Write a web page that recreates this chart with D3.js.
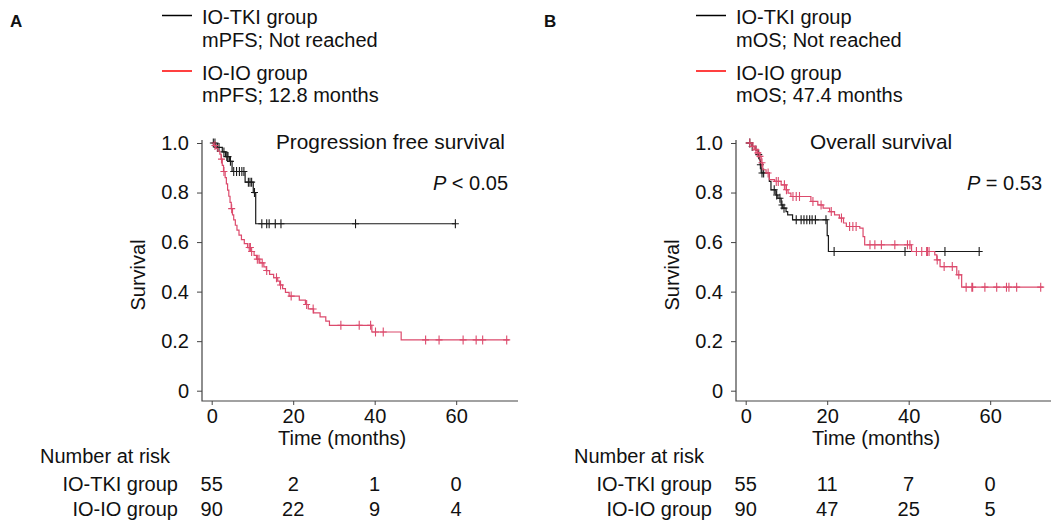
<!DOCTYPE html>
<html>
<head>
<meta charset="utf-8">
<script src="https://cdn.jsdelivr.net/npm/d3@7"></script>
<style>
  body { margin: 0; background: #fff; }
  text { font-family: "Liberation Sans", Arial, Helvetica, sans-serif; fill: #111; }
</style>
</head>
<body>
<svg width="1051" height="529"></svg>
<script>
// ---- data ----
var timeTicks = [0, 20, 40, 60],
    survTicks = [0, 0.2, 0.4, 0.6, 0.8, 1.0];

// A: progression free survival
var pfsTkiTime = [0, 1.0, 2.6, 3.4, 4.4, 5.0, 8.2, 10.2, 10.8],
    pfsTkiSurv = [1.0, 0.982, 0.964, 0.945, 0.926, 0.885, 0.842, 0.80, 0.674],
    pfsTkiEnd = 59.8,
    pfsTkiCens = [0.4, 0.8, 1.4, 1.8, 3.0, 3.7, 4.0, 4.6, 5.4, 6.1, 6.8, 7.4, 7.9, 9.0, 9.4, 9.8, 10.5, 12.3, 13.5, 14.1, 15.6, 17.0, 35.3, 59.8];

var pfsIoTime = [0, 0.5, 1.0, 1.5, 2.0, 2.3, 2.6, 2.9, 3.3, 3.6, 3.9, 4.2, 4.5, 4.8, 5.1, 5.4, 5.8, 6.2, 6.7, 7.3, 8.0, 8.8, 9.6, 10.4, 11.0, 11.8, 12.8, 13.4, 14.2, 15.2, 16.2, 16.7, 17.4, 18.1, 19.0, 21.5, 23.0, 23.7, 25.0, 26.6, 28.0, 28.9, 39.3, 46.5],
    pfsIoSurv = [1.0, 0.99, 0.978, 0.967, 0.955, 0.935, 0.91, 0.885, 0.86, 0.835, 0.81, 0.785, 0.76, 0.735, 0.71, 0.69, 0.668, 0.648, 0.628, 0.61, 0.594, 0.578, 0.562, 0.546, 0.531, 0.516, 0.5, 0.485, 0.47, 0.456, 0.442, 0.427, 0.412, 0.397, 0.382, 0.366, 0.348, 0.33, 0.314, 0.298, 0.281, 0.264, 0.237, 0.205],
    pfsIoEnd = 73,
    pfsIoCens = [0.8, 2.4, 3.0, 4.9, 9.2, 9.5, 9.8, 11.2, 11.6, 12.4, 13.5, 15.9, 16.9, 19.5, 23.3, 24.9, 31.7, 36.2, 39.0, 40.2, 42.1, 52.5, 55.8, 61.7, 64.9, 66.5, 72.4];

// B: overall survival
var osTkiTime = [0, 1.5, 2.5, 3.0, 3.4, 3.6, 3.8, 5.8, 6.2, 7.4, 7.9, 8.7, 9.1, 9.9, 10.3, 11.5, 20.0, 20.3],
    osTkiSurv = [1.0, 0.986, 0.97, 0.953, 0.932, 0.912, 0.879, 0.845, 0.811, 0.79, 0.777, 0.75, 0.737, 0.723, 0.71, 0.69, 0.626, 0.562],
    osTkiEnd = 57.3,
    osTkiCens = [1.0, 1.6, 3.2, 3.6, 4.0, 4.4, 7.0, 7.6, 8.4, 8.9, 9.4, 12.4, 13.6, 14.3, 15.0, 15.7, 16.3, 17.1, 19.7, 21.7, 39.1, 48.9, 57.3];

var osIoTime = [0, 1.5, 2.2, 2.8, 3.4, 3.8, 4.2, 5.0, 5.8, 7.1, 8.7, 9.9, 10.4, 11.1, 16.0, 17.7, 19.0, 20.6, 21.8, 23.0, 24.0, 24.7, 28.0, 28.8, 29.2, 40.7, 46.4, 46.9, 47.7, 51.8, 53.0],
    osIoSurv = [1.0, 0.986, 0.973, 0.96, 0.946, 0.92, 0.892, 0.879, 0.852, 0.845, 0.831, 0.811, 0.798, 0.784, 0.764, 0.75, 0.737, 0.723, 0.71, 0.697, 0.677, 0.663, 0.656, 0.622, 0.589, 0.562, 0.548, 0.528, 0.501, 0.468, 0.418],
    osIoEnd = 73,
    osIoCens = [1.0, 1.8, 2.5, 3.0, 3.5, 4.0, 5.5, 7.5, 8.0, 9.5, 10.0, 11.6, 12.4, 13.2, 16.5, 18.5, 21.0, 23.5, 25.5, 26.3, 27.1, 30.5, 31.7, 33.3, 36.6, 39.7, 40.3, 41.9, 43.2, 44.4, 44.6, 45.0, 47.0, 48.7, 50.7, 52.3, 54.1, 55.5, 55.7, 58.7, 61.6, 64.0, 64.6, 66.5, 72.4];

// number at risk at 0/20/40/60 months
var riskPfsTki = [55, 2, 1, 0], riskPfsIo = [90, 22, 9, 4],
    riskOsTki = [55, 11, 7, 0],  riskOsIo = [90, 47, 25, 5];

var groupNames = ["IO-TKI group", "IO-IO group"];

// ---- style ----
var tkiClr = "#1a1a1a", ioClr = "#dc4a6c", legendRed = "#ff0000", axisClr = "#444";

var panels = [
  { letter: "A", left: 0, title: "Progression free survival", pOp: " < 0.05", metric: "mPFS",
    meds: ["Not reached", "12.8 months"],
    curves: [ { time: pfsTkiTime, surv: pfsTkiSurv, end: pfsTkiEnd, cens: pfsTkiCens, clr: tkiClr },
              { time: pfsIoTime, surv: pfsIoSurv, end: pfsIoEnd, cens: pfsIoCens, clr: ioClr } ],
    risk: [riskPfsTki, riskPfsIo] },
  { letter: "B", left: 534, title: "Overall survival", pOp: " = 0.53", metric: "mOS",
    meds: ["Not reached", "47.4 months"],
    curves: [ { time: osTkiTime, surv: osTkiSurv, end: osTkiEnd, cens: osTkiCens, clr: tkiClr },
              { time: osIoTime, surv: osIoSurv, end: osIoEnd, cens: osIoCens, clr: ioClr } ],
    risk: [riskOsTki, riskOsIo] }
];

var svg = d3.select("svg");

panels.forEach(drawPanel);

function drawPanel(p){
  var g = svg.append("g").attr("transform", "translate(" + p.left + ",0)");

  var x = d3.scaleLinear().domain([0, 75]).range([211.7, 517.3]),
      y = d3.scaleLinear().domain([0, 1]).range([390.7, 143]);

  // panel letter
  g.append("text").attr("x", 10).attr("y", 27).attr("font-size", 17).attr("font-weight", "bold").text(p.letter);

  // legend
  var legClr = ["#000", legendRed];
  [0, 1].forEach(function(i){
    var yy = i === 0 ? 15.5 : 71;
    g.append("line").attr("x1", 162).attr("x2", 192).attr("y1", yy).attr("y2", yy)
      .style("stroke", legClr[i]).style("stroke-width", 1.5);
    g.append("text").attr("x", 202).attr("y", yy + 8.5).attr("font-size", 20).text(groupNames[i]);
    g.append("text").attr("x", 202).attr("y", yy + 31).attr("font-size", 20).text(p.metric + "; " + p.meds[i]);
  });

  // axes
  var ya = g.append("g").attr("transform", "translate(202,0)")
    .call(d3.axisLeft(y).tickValues(survTicks).tickSize(5).tickPadding(8)
      .tickFormat(function(d){ return d === 0 ? "0" : d3.format(".1f")(d); }));
  var xa = g.append("g").attr("transform", "translate(0,401)")
    .call(d3.axisBottom(x).tickValues(timeTicks).tickSize(4).tickPadding(4));
  [ya, xa].forEach(function(a){
    a.select(".domain").remove();
    a.attr("font-size", 20).attr("font-family", null).style("color", axisClr);
    a.selectAll("text").style("fill", "#111");
  });
  g.append("path").attr("d", "M202,140V401H518").style("fill", "none").style("stroke", axisClr).style("stroke-width", 1.2);

  // axis titles
  g.append("text").attr("transform", "translate(145,275) rotate(-90)").attr("text-anchor", "middle")
    .attr("font-size", 20).text("Survival");
  g.append("text").attr("x", x(32)).attr("y", 445).attr("text-anchor", "middle")
    .attr("font-size", 20).text("Time (months)");

  // title and p value
  g.append("text").attr("x", 276).attr("y", 149).attr("font-size", 20.8).text(p.title);
  var pt = g.append("text").attr("x", 508).attr("y", 190).attr("text-anchor", "end").attr("font-size", 20);
  pt.append("tspan").style("font-style", "italic").text("P");
  pt.append("tspan").text(p.pOp);

  // curves
  var line = d3.line().x(function(d){ return x(d[0]); }).y(function(d){ return y(d[1]); }).curve(d3.curveStepAfter);
  p.curves.forEach(function(c){
    var pts = c.time.map(function(t, i){ return [t, c.surv[i]]; });
    pts.push([c.end, c.surv[c.surv.length - 1]]);
    g.append("path").datum(pts).attr("d", line)
      .style("fill", "none").style("stroke", c.clr).style("stroke-width", 1.2);

    var cs = c.cens.map(function(t){
      var i = d3.bisectRight(c.time, t) - 1;
      return [t, c.surv[Math.max(0, i)]];
    });
    g.append("path")
      .attr("d", cs.map(function(d){
        var cx = x(d[0]), cy = y(d[1]);
        return "M" + (cx - 3.5) + "," + cy + "h7M" + cx + "," + (cy - 4.5) + "v9";
      }).join(""))
      .style("fill", "none").style("stroke", c.clr).style("stroke-width", 1.1);
  });

  // number at risk table
  g.append("text").attr("x", 40).attr("y", 463).attr("font-size", 20).text("Number at risk");
  [0, 1].forEach(function(i){
    var yy = i === 0 ? 491 : 516;
    g.append("text").attr("x", 178).attr("y", yy).attr("text-anchor", "end").attr("font-size", 20).text(groupNames[i]);
    g.selectAll(null).data(p.risk[i]).enter().append("text")
      .attr("x", function(d, j){ return x(timeTicks[j]); }).attr("y", yy)
      .attr("text-anchor", "middle").attr("font-size", 20).text(function(d){ return d; });
  });
}
</script>
</body>
</html>
